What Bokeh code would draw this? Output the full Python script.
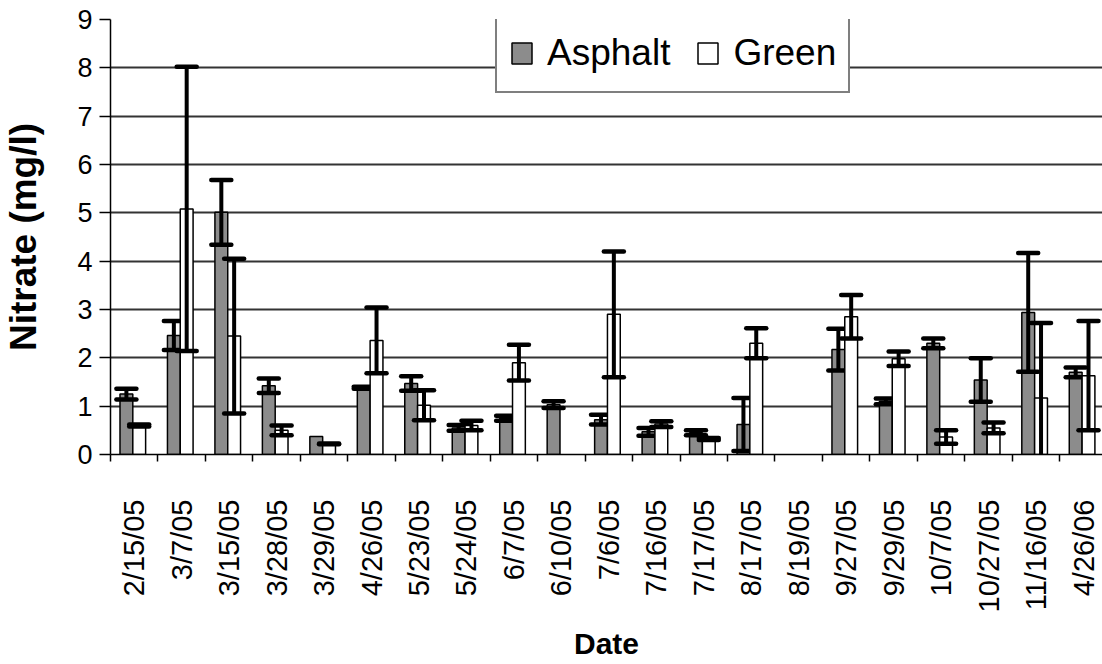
import numpy as np
from bokeh.plotting import figure
from bokeh.models import ColumnDataSource, Range1d, FixedTicker, Legend, LegendItem
from bokeh.embed import file_html
from bokeh.resources import INLINE

dates = ["2/15/05", "3/7/05", "3/15/05", "3/28/05", "3/29/05", "4/26/05", "5/23/05",
         "5/24/05", "6/7/05", "6/10/05", "7/6/05", "7/16/05", "7/17/05", "8/17/05",
         "8/19/05", "9/27/05", "9/29/05", "10/7/05", "10/27/05", "11/16/05", "4/26/06"]
nan = float("nan")
asphalt = [1.25, 2.46, 5.01, 1.42, 0.37, 1.38, 1.47, 0.55, 0.75, 1.03, 0.72, 0.47, 0.45, 0.62,
           nan, 2.17, 1.10, 2.30, 1.54, 2.94, 1.70]
asphalt_err = [0.11, 0.30, 0.67, 0.15, nan, 0.02, 0.15, 0.06, 0.05, 0.07, 0.10, 0.08, 0.05, 0.55,
               nan, 0.43, 0.06, 0.10, 0.45, 1.23, 0.10]
green = [0.60, 5.08, 2.45, 0.50, 0.22, 2.36, 1.02, 0.60, 1.90, nan, 2.90, 0.63, 0.32, 2.30,
         nan, 2.85, 1.98, 0.36, 0.55, 1.17, 1.63]
green_err = [0.02, 2.94, 1.60, 0.10, 0.01, 0.68, 0.31, 0.10, 0.37, nan, 1.30, 0.06, 0.02, 0.31,
             nan, 0.45, 0.15, 0.14, 0.11, 1.55, 1.13]
y_ticks = [0, 1, 2, 3, 4, 5, 6, 7, 8, 9]

FONT = "Liberation Sans"
n = len(dates)
centers = np.arange(n) + 0.5
BAR_W = 0.27
OFF_A = -0.165
OFF_G = 0.105

p = figure(width=1102, height=664, x_range=Range1d(0, 20.9), y_range=Range1d(0, 9),
           output_backend="svg", toolbar_location=None,
           min_border_left=108, min_border_right=0, min_border_top=19, min_border_bottom=210)
p.outline_line_color = None
p.background_fill_color = "white"
p.border_fill_color = "white"


def series_sources(vals, errs, off):
    v = np.array(vals, dtype=float)
    e = np.array(errs, dtype=float)
    x = centers + off
    ok = ~np.isnan(v)
    bars = ColumnDataSource(dict(x=x[ok], top=v[ok]))
    oke = ok & ~np.isnan(e)
    up = v + np.nan_to_num(e)
    lo = v - np.nan_to_num(e)
    stems = ColumnDataSource(dict(x=x[oke], y0=np.clip(lo[oke], 0, None), y1=up[oke]))
    ucaps = ColumnDataSource(dict(x=x[oke], y=up[oke]))
    lmask = oke & (lo >= 0)
    lcaps = ColumnDataSource(dict(x=x[lmask], y=lo[lmask]))
    return bars, stems, ucaps, lcaps


items = []
for name, vals, errs, off, color in [("Asphalt", asphalt, asphalt_err, OFF_A, "#8c8c8c"),
                                     ("Green", green, green_err, OFF_G, "white")]:
    bars, stems, ucaps, lcaps = series_sources(vals, errs, off)
    r = p.vbar(x="x", top="top", bottom=0, width=BAR_W, source=bars,
               fill_color=color, line_color="black", line_width=1.5)
    items.append(LegendItem(label=name, renderers=[r]))
    p.segment(x0="x", y0="y0", x1="x", y1="y1", source=stems, line_color="black", line_width=4)
    for src in (ucaps, lcaps):
        p.scatter(x="x", y="y", source=src, marker="dash", size=20, line_color="black",
                  line_width=4.5, line_cap="round")

# axes
p.xgrid.grid_line_color = None
p.ygrid.ticker = FixedTicker(ticks=y_ticks)
p.ygrid.grid_line_color = "#333333"
p.ygrid.grid_line_width = 1.8

p.yaxis.ticker = FixedTicker(ticks=y_ticks)
p.yaxis.axis_line_color = "black"
p.yaxis.axis_line_width = 1.5
p.yaxis.major_tick_line_width = 1.5
p.yaxis.major_tick_out = 11
p.yaxis.major_tick_in = 0
p.yaxis.minor_tick_line_color = None
p.yaxis.major_label_standoff = 7
p.yaxis.major_label_text_font = FONT
p.yaxis.major_label_text_font_size = "27px"
p.yaxis.major_label_text_color = "black"
p.yaxis.axis_label = "Nitrate (mg/l)"
p.yaxis.axis_label_text_font = FONT
p.yaxis.axis_label_text_font_style = "bold"
p.yaxis.axis_label_text_font_size = "37px"
p.yaxis.axis_label_text_color = "black"
p.yaxis.axis_label_standoff = 30

p.xaxis.ticker = FixedTicker(ticks=list(centers), minor_ticks=list(range(n + 1)))
p.xaxis.major_label_overrides = {float(c): d for c, d in zip(centers, dates)}
p.xaxis.major_label_orientation = np.pi / 2
p.xaxis.axis_line_color = "black"
p.xaxis.axis_line_width = 1.5
p.xaxis.major_tick_line_color = None
p.xaxis.major_tick_out = 7
p.xaxis.major_tick_in = 0
p.xaxis.minor_tick_line_color = "black"
p.xaxis.minor_tick_line_width = 1.5
p.xaxis.minor_tick_out = 7
p.xaxis.minor_tick_in = 0
p.xaxis.major_label_standoff = 38
p.xaxis.major_label_text_font = FONT
p.xaxis.major_label_text_font_size = "29px"
p.xaxis.major_label_text_color = "black"
p.xaxis.axis_label = "Date"
p.xaxis.axis_label_text_font = FONT
p.xaxis.axis_label_text_font_style = "bold"
p.xaxis.axis_label_text_font_size = "30px"
p.xaxis.axis_label_text_color = "black"
p.xaxis.axis_label_standoff = 12

legend = Legend(items=items, orientation="horizontal", location=(385, 361),
                label_text_font=FONT, label_text_font_size="37px", label_text_color="black",
                glyph_width=25, glyph_height=26, label_standoff=13, spacing=25,
                padding=12, margin=0, label_height=52,
                border_line_color="black", border_line_width=2,
                background_fill_color="white", background_fill_alpha=1.0)
p.add_layout(legend, "center")

open("out.html", "w").write(file_html(p, INLINE))
